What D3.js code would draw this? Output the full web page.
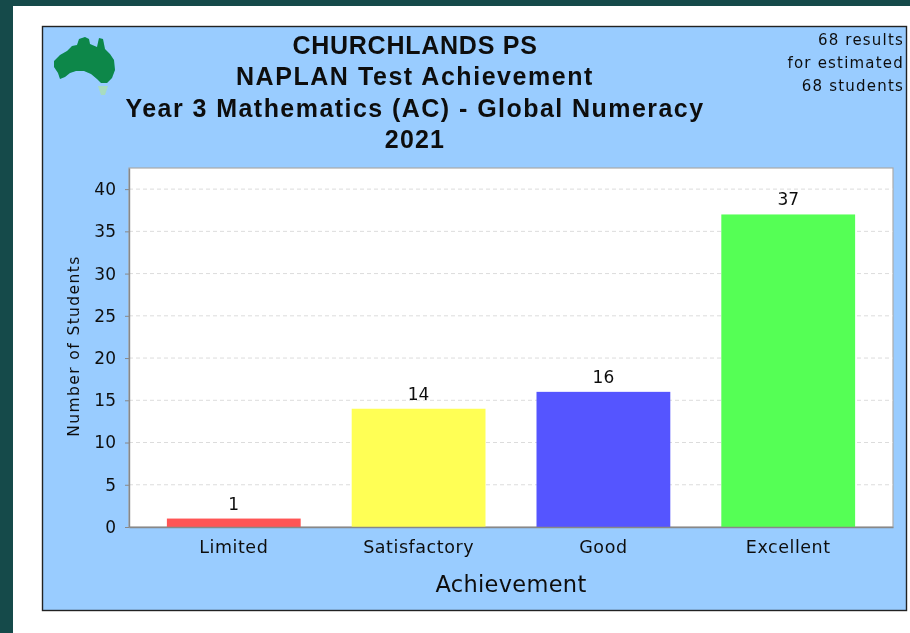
<!DOCTYPE html>
<html><head><meta charset="utf-8">
<script src="https://cdn.jsdelivr.net/npm/d3@7/dist/d3.min.js"></script>
<style>html,body{margin:0;padding:0;background:#154a4a;overflow:hidden}svg{display:block}text{font-family:"DejaVu Sans",sans-serif;fill:#111}</style>
</head><body><div id="c"></div>
<script>
const categories = ["Limited","Satisfactory","Good","Excellent"];
const values = [1,14,16,37];
const barColors = ["#ff5555","#ffff55","#5555ff","#55ff55"];
const yTicks = [0,5,10,15,20,25,30,35,40];
const titleLines = ["CHURCHLANDS PS","NAPLAN Test Achievement","Year 3 Mathematics (AC) - Global Numeracy","2021"];
const noteLines = ["68 results","for estimated","68 students"];
const yLabel = "Number of Students", xLabel = "Achievement";
const W=910,H=633, L=129,R=893,T=168,B=527;
const svg=d3.select("#c").append("svg").attr("width",W).attr("height",H);
const defs=svg.append("defs");
defs.append("filter").attr("id","soft").append("feGaussianBlur").attr("stdDeviation",0.45);
defs.append("filter").attr("id","softer").append("feGaussianBlur").attr("stdDeviation",0.55);
svg.append("rect").attr("x",13).attr("y",6).attr("width",W-13).attr("height",H-6).attr("fill","#fff");
svg.append("rect").attr("x",42.5).attr("y",26.5).attr("width",864).attr("height",584).attr("fill","#99ccff").attr("stroke","#222").attr("stroke-width",1.4);
// map emblem
const map="M54 61 L60 55 L67 51 L72 46 L77 45 L79 39 L85 37 L89 39 L90 44 L97 47 L99 38 L103 39 L105 49 L110 54 L114 60 L115 70 L112 78 L107 83 L101 83 L97 79 L91 74 L84 71 L76 71 L70 73 L65 77 L60 79 L58 73 L54 67 Z";
svg.append("path").attr("d",map).attr("fill","#08874a").attr("filter","url(#softer)");
svg.append("path").attr("d","M98 86 L108 86 L105 95 L101 95 Z").attr("fill","#a8dcc0").attr("filter","url(#softer)");
const plot=svg.append("g");
plot.append("rect").attr("x",L).attr("y",T).attr("width",R-L).attr("height",B-T).attr("fill","#fff").attr("stroke","#aaa").attr("stroke-width",1.2);
const x=d3.scaleBand().domain(categories).range([L,R]).paddingInner(0.276).paddingOuter(0.205);
const y=d3.scaleLinear().domain([0,42.5]).range([B,T]);
plot.selectAll("line.g").data(yTicks.filter(d=>d>0)).join("line").attr("class","g")
 .attr("x1",L).attr("x2",R).attr("y1",d=>y(d)).attr("y2",d=>y(d))
 .attr("stroke","#dcdcdc").attr("stroke-dasharray","4 3");
plot.selectAll("rect.b").data(values).join("rect").attr("class","b")
 .attr("x",(d,i)=>x(categories[i])).attr("width",x.bandwidth())
 .attr("y",d=>y(d)).attr("height",d=>B-y(d)).attr("fill",(d,i)=>barColors[i]);
plot.selectAll("text.v").data(values).join("text").attr("class","v")
 .attr("x",(d,i)=>x(categories[i])+x.bandwidth()/2).attr("y",d=>y(d)-9)
 .attr("text-anchor","middle").attr("font-size",17).text(d=>d);
const ya=d3.axisLeft(y).tickValues(yTicks).tickSizeInner(4).tickSizeOuter(0).tickPadding(9);
const yg=svg.append("g").attr("transform",`translate(${L},0)`).call(ya);
const xa=d3.axisBottom(x).tickSize(0).tickPadding(14);
const xg=svg.append("g").attr("transform",`translate(0,${B})`).call(xa);
[yg,xg].forEach(g=>{g.selectAll("path.domain").attr("stroke","#888").attr("stroke-width",1.4);g.selectAll("line").attr("stroke","#888");});
yg.selectAll("text").attr("font-size",17).style("font-family",'"DejaVu Sans"');
xg.selectAll("text").attr("font-size",17.5).style("font-family",'"DejaVu Sans"').attr("letter-spacing",0.55);
svg.append("text").attr("transform",`translate(79,346) rotate(-90)`).attr("text-anchor","middle").attr("font-size",15.5).attr("letter-spacing",1.4).text(yLabel);
svg.append("text").attr("x",511).attr("y",592).attr("text-anchor","middle").attr("font-size",22.5).attr("letter-spacing",0.3).text(xLabel);
const titleTracking=[0.75,1.55,1.45,1.2];
svg.selectAll("text.t").data(titleLines).join("text").attr("class","t")
 .attr("x",415).attr("y",(d,i)=>54+i*31.3).attr("text-anchor","middle")
 .attr("font-size",25).attr("font-weight","bold").style("font-family",'"Liberation Sans"').attr("letter-spacing",(d,i)=>titleTracking[i]).text(d=>d);
svg.selectAll("text.n").data(noteLines).join("text").attr("class","n")
 .attr("x",904).attr("y",(d,i)=>45+i*23).attr("text-anchor","end")
 .attr("font-size",15).attr("letter-spacing",1.2).text(d=>d);
svg.selectAll("text").attr("filter","url(#soft)");
</script></body></html>
